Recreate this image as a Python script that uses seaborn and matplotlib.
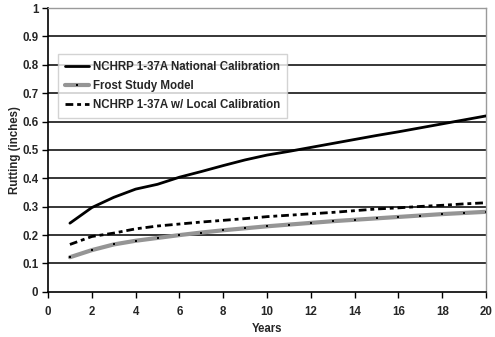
import matplotlib
matplotlib.use("Agg")
import matplotlib.pyplot as plt
import seaborn as sns
import pandas as pd

years = list(range(1, 21))
national = [0.242, 0.297, 0.333, 0.362, 0.379, 0.404, 0.424, 0.445, 0.465, 0.482,
            0.495, 0.509, 0.523, 0.537, 0.551, 0.564, 0.578, 0.592, 0.606, 0.620]
frost = [0.122, 0.147, 0.167, 0.180, 0.190, 0.200, 0.209, 0.217, 0.224, 0.231,
         0.237, 0.243, 0.249, 0.254, 0.259, 0.264, 0.269, 0.274, 0.278, 0.282]
local = [0.167, 0.195, 0.207, 0.222, 0.232, 0.239, 0.246, 0.252, 0.258, 0.265,
         0.270, 0.275, 0.280, 0.286, 0.292, 0.296, 0.301, 0.305, 0.310, 0.314]
names = ["NCHRP 1-37A National Calibration", "Frost Study Model",
         "NCHRP 1-37A w/ Local Calibration"]
x_ticks = list(range(0, 21, 2))
y_ticks = [0, 0.1, 0.2, 0.3, 0.4, 0.5, 0.6, 0.7, 0.8, 0.9, 1]
y_labels = ["0", "0.1", "0.2", "0.3", "0.4", "0.5", "0.6", "0.7", "0.8", "0.9", "1"]

sns.set_theme(style="white")
plt.rcParams["font.family"] = ["Liberation Sans", "DejaVu Sans"]
plt.rcParams["font.weight"] = "bold"
FS = 8.3

df = pd.DataFrame({"Years": years * 3,
                   "Rutting": national + frost + local,
                   "Series": [names[0]] * 20 + [names[1]] * 20 + [names[2]] * 20})

fig = plt.figure(figsize=(4.95, 3.37), dpi=100)
ax = fig.add_axes([0.097, 0.134, 0.885, 0.842])

# grid lines behind the data
for v in y_ticks[1:-1]:
    ax.axhline(v, color="black", lw=1.1, zorder=0)

sns.lineplot(data=df[df.Series == names[0]], x="Years", y="Rutting", ax=ax,
             color="black", lw=2.0, label=names[0], zorder=3)
sns.lineplot(data=df[df.Series == names[1]], x="Years", y="Rutting", ax=ax,
             color="#959595", lw=3.0, label=names[1], zorder=2,
             marker="s", markersize=1.6, markeredgewidth=0,
             markerfacecolor="black")
sns.lineplot(data=df[df.Series == names[2]], x="Years", y="Rutting", ax=ax,
             color="black", lw=2.0, label=names[2], zorder=2,
             dashes=(2.8, 1.4, 1.4, 1.4))

ax.set_xlim(0, 20)
ax.set_ylim(0, 1)
ax.set_xticks(x_ticks)
ax.set_yticks(y_ticks)
ax.set_yticklabels(y_labels)
ax.tick_params(axis="both", labelsize=FS, length=4, width=1, color="black",
               direction="out", pad=3, bottom=True, left=True)
for lab in ax.get_xticklabels() + ax.get_yticklabels():
    lab.set_fontweight("bold")
ax.tick_params(axis="x", pad=6)

ax.set_xlabel("Years", fontsize=FS, fontweight="bold", labelpad=4)
ax.set_ylabel("Rutting (inches)", fontsize=FS, fontweight="bold", labelpad=1)

for s in ["left", "bottom"]:
    ax.spines[s].set_color("black")
    ax.spines[s].set_linewidth(1.2)
for s in ["top", "right"]:
    ax.spines[s].set_color("#9a9a9a")
    ax.spines[s].set_linewidth(1.0)

leg = ax.legend(loc="upper left", bbox_to_anchor=(0.023, 0.838), fontsize=FS,
                frameon=True, fancybox=False, handlelength=2.1,
                handletextpad=0.35, borderpad=0.6, labelspacing=0.6,
                borderaxespad=0)
leg.get_frame().set_edgecolor("#c8c8c8")
leg.get_frame().set_linewidth(1.0)
for t in leg.get_texts():
    t.set_fontweight("bold")

fig.savefig("out.png", dpi=100)
